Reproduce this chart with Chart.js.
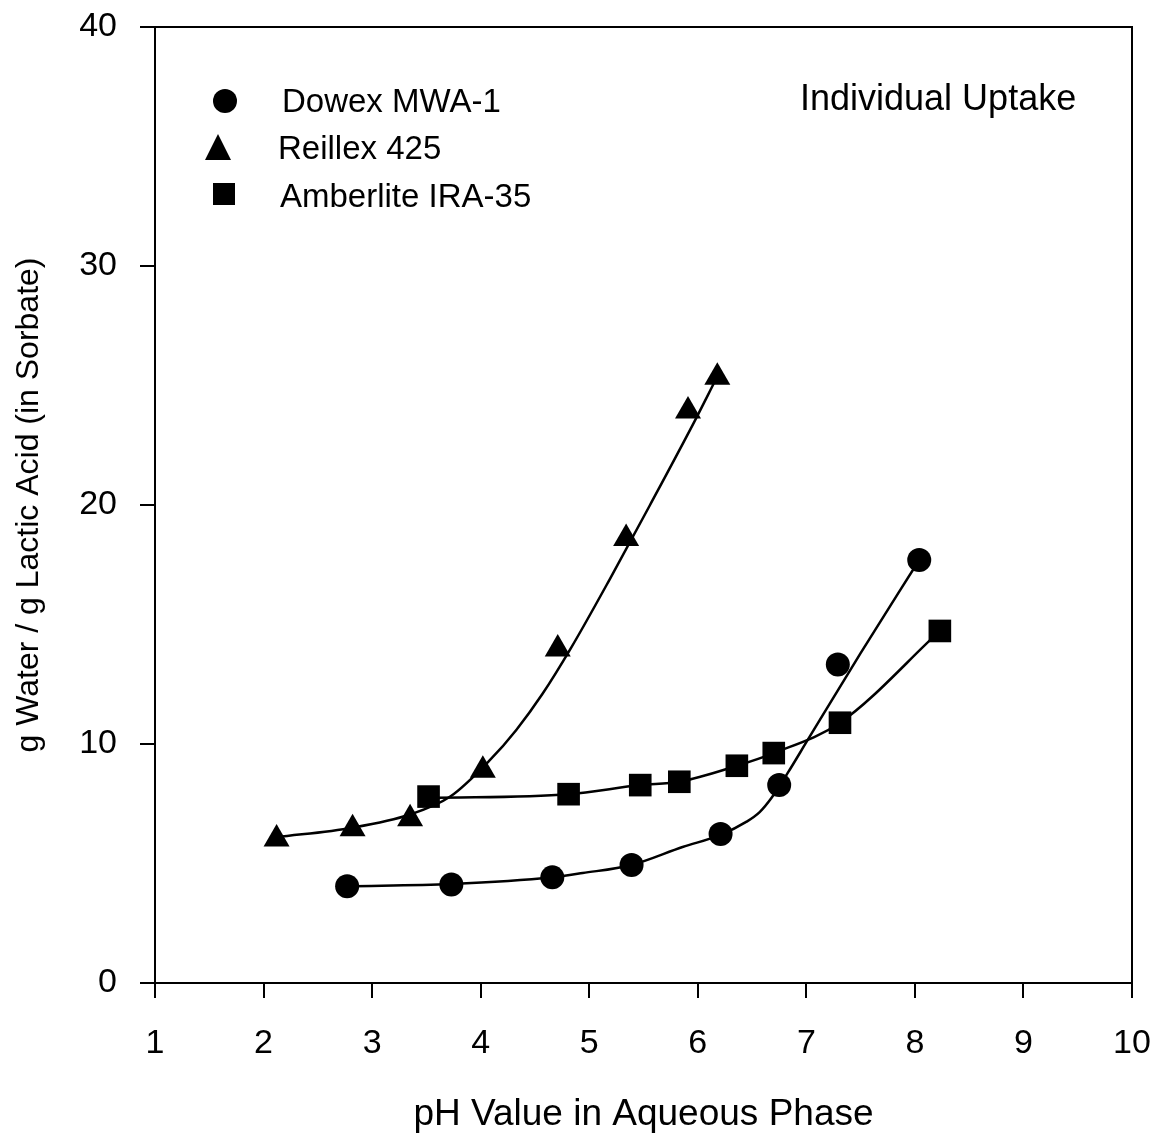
<!DOCTYPE html>
<html>
<head>
<meta charset="utf-8">
<title>Individual Uptake</title>
<script src="https://cdn.jsdelivr.net/npm/chart.js@4.4.1/dist/chart.umd.min.js"></script>
<style>
  html, body { margin: 0; padding: 0; background: #fff; }
  #wrap { width: 1158px; height: 1137px; }
</style>
</head>
<body>
<div id="wrap"><canvas id="uptakeChart" width="1158" height="1137"></canvas></div>
<script>
// measured points (pH, g water / g lactic acid)
const dowexPH = [2.77, 3.73, 4.66, 5.39, 6.21, 6.75, 7.29, 8.04];
const dowexRatio = [4.05, 4.12, 4.42, 4.94, 6.23, 8.28, 13.33, 17.7];
const reillexPH = [2.12, 2.82, 3.35, 4.02, 4.71, 5.34, 5.91, 6.18];
const reillexRatio = [6.03, 6.45, 6.87, 8.9, 13.98, 18.6, 23.93, 25.35];
const amberPH = [3.52, 4.81, 5.47, 5.83, 6.36, 6.70, 7.31, 8.23];
const amberRatio = [7.8, 7.9, 8.28, 8.42, 9.09, 9.62, 10.89, 14.73];

// fitted curves as drawn in the figure
const dowexFitPH = [2.77, 3.73, 4.66, 4.94, 5.39, 5.86, 6.21, 6.45, 6.57, 6.68, 6.83, 7.01, 7.5, 8.04];
const dowexFitRatio = [4.05, 4.14, 4.42, 4.6, 4.94, 5.69, 6.2, 6.75, 7.15, 7.75, 8.8, 10.15, 13.8, 17.7];
const reillexFitPH = [2.12, 2.82, 3.35, 3.72, 4.08, 4.33, 4.57, 4.83, 5.19, 5.56, 5.97, 6.16];
const reillexFitRatio = [6.1, 6.5, 7.05, 7.8, 9.3, 10.6, 12.1, 14.0, 16.9, 20.0, 23.5, 25.2];
const amberFitPH = [3.52, 4.81, 5.47, 5.83, 6.36, 6.70, 7.31, 8.23];
const amberFitRatio = [7.74, 7.9, 8.28, 8.42, 9.09, 9.62, 10.89, 14.73];

const seriesNames = ['Dowex MWA-1', 'Reillex 425', 'Amberlite IRA-35'];
const panelLabel = 'Individual Uptake';
const xTitle = 'pH Value in Aqueous Phase';
const yTitle = 'g Water / g Lactic Acid (in Sorbate)';

const FONT = '"Liberation Sans", Arial, sans-serif';

const toXY = (xs, ys) => xs.map((x, i) => ({ x, y: ys[i] }));

function curve(xs, ys) {
    return {
        data: toXY(xs, ys),
        showLine: true,
        borderColor: '#000',
        borderWidth: 2.5,
        pointRadius: 0,
        cubicInterpolationMode: 'monotone',
        fill: false
    };
}

function markers(xs, ys, style, radius) {
    return {
        data: toXY(xs, ys),
        showLine: false,
        pointStyle: style,
        pointRadius: radius,
        backgroundColor: '#000',
        borderColor: '#000',
        borderWidth: 0
    };
}

// frame, in-plot legend and label
const framePlugin = {
    id: 'frame',
    afterDraw(chart) {
        const { ctx, chartArea: a } = chart;
        ctx.save();
        ctx.strokeStyle = '#000';
        ctx.lineWidth = 2;
        ctx.strokeRect(a.left, a.top, a.right - a.left, a.bottom - a.top);

        ctx.fillStyle = '#000';
        // legend symbols
        ctx.beginPath();
        ctx.arc(225, 101, 12, 0, Math.PI * 2);
        ctx.fill();

        ctx.beginPath();
        ctx.moveTo(218, 134);
        ctx.lineTo(231, 160);
        ctx.lineTo(205, 160);
        ctx.closePath();
        ctx.fill();

        ctx.fillRect(213, 183, 22, 22);

        ctx.font = '33px ' + FONT;
        ctx.textBaseline = 'middle';
        ctx.textAlign = 'left';
        ctx.fillText(seriesNames[0], 282, 103);
        ctx.fillText(seriesNames[1], 278, 150);
        ctx.fillText(seriesNames[2], 280, 198);

        ctx.font = '36px ' + FONT;
        ctx.fillText(panelLabel, 800, 100);
        ctx.restore();
    }
};

new Chart(document.getElementById('uptakeChart'), {
    type: 'scatter',
    data: {
        datasets: [
            curve(dowexFitPH, dowexFitRatio),
            curve(reillexFitPH, reillexFitRatio),
            curve(amberFitPH, amberFitRatio),
            markers(dowexPH, dowexRatio, 'circle', 12),
            markers(reillexPH, reillexRatio, 'triangle', 15),
            markers(amberPH, amberRatio, 'rect', 16)
        ]
    },
    options: {
        responsive: false,
        animation: false,
        devicePixelRatio: 1,
        layout: { padding: { left: 0, top: 27, right: 26, bottom: 0 } },
        plugins: {
            legend: { display: false },
            tooltip: { enabled: false }
        },
        scales: {
            x: {
                type: 'linear',
                min: 1,
                max: 10,
                afterFit: (scale) => {
                    scale.height = 154;
                    scale.paddingLeft = 0;
                    scale.paddingRight = 0;
                },
                ticks: {
                    stepSize: 1,
                    color: '#000',
                    padding: 25,
                    font: { family: FONT, size: 34 }
                },
                grid: {
                    drawOnChartArea: false,
                    color: '#000',
                    lineWidth: 2,
                    tickLength: 15
                },
                border: { color: '#000', width: 2 },
                title: {
                    display: true,
                    text: xTitle,
                    color: '#000',
                    font: { family: FONT, size: 37 },
                    padding: { top: 0, bottom: 0 }
                }
            },
            y: {
                type: 'linear',
                min: 0,
                max: 40,
                afterFit: (scale) => {
                    scale.width = 155;
                    scale.paddingTop = 0;
                    scale.paddingBottom = 0;
                },
                ticks: {
                    stepSize: 10,
                    color: '#000',
                    padding: 23,
                    font: { family: FONT, size: 34 }
                },
                grid: {
                    drawOnChartArea: false,
                    color: '#000',
                    lineWidth: 2,
                    tickLength: 15
                },
                border: { color: '#000', width: 2 },
                title: {
                    display: true,
                    text: yTitle,
                    color: '#000',
                    font: { family: FONT, size: 32 },
                    padding: { top: 10, bottom: 0 }
                }
            }
        }
    },
    plugins: [framePlugin]
});
</script>
</body>
</html>
